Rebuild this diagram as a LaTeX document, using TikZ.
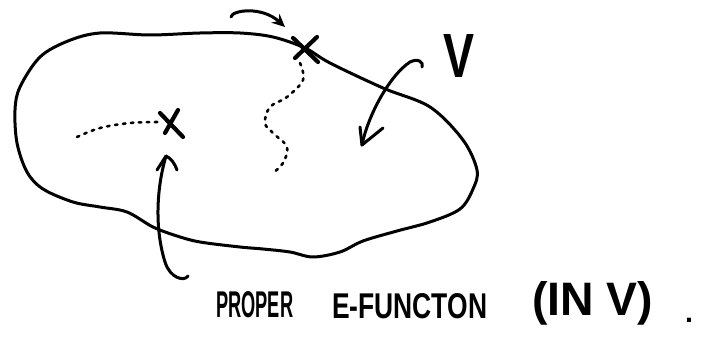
\documentclass[tikz,border=0pt]{standalone}
\usepackage{fontspec}
\setmainfont{Liberation Sans}
\usetikzlibrary{arrows.meta}
\tikzset{
  pen/.style={line width=3pt, line cap=round, line join=round, black},
  thickpen/.style={line width=4.2pt, line cap=round, black},
  trail/.style={line width=2.6pt, line cap=round, dash pattern=on 2.5pt off 5.5pt, black},
  hand/.style={inner sep=0pt, anchor=base west, font=\bfseries}
}
\begin{document}
\begin{tikzpicture}[x=1pt,y=-1pt]
\useasboundingbox (0,0) rectangle (702,339);
% the region V
\draw[pen] plot[smooth cycle, tension=0.55] coordinates {
 (100,33) (150,35) (200,33) (240,33) (273,37) (305,48) (330,63) (383,88)
 (430,107) (463,140) (477,170) (473,189) (460,209) (430,222) (397,231)
 (363,241) (340,252) (313,257) (290,252) (263,249) (240,247) (200,242)
 (177,236) (153,227) (127,212) (100,207) (73,202) (43,189) (27,172)
 (17,143) (15,110) (20,87) (40,57) (68,41)};
% marks
\coordinate (xa) at (172,123);
\coordinate (xb) at (305,48);
\draw[thickpen] (160,113) -- (183,137) (178,110) -- (165,133);
\draw[thickpen] (293,38) -- (318,62) (317,37) -- (295,58);
% dotted trails
\draw[trail] plot[smooth, tension=0.6] coordinates {(77,137) (100,128) (130,123) (160,122)};
\draw[trail] plot[smooth, tension=0.6] coordinates {(300,63) (303,80) (287,97) (270,107) (265,123) (273,133) (287,147) (283,163) (273,173)};
% curled arrow to the top mark
\draw[pen, -{Stealth[length=13pt,width=12pt]}] (231,17) .. controls (232,10) and (262,6) .. (285,27);
% arrow from V into the region
\draw[pen] (422,67) .. controls (424,62) and (418,58) .. (410,62)
  .. controls (390,75) and (368,115) .. (362,145);
\draw[pen] (360,127) -- (362,145) -- (383,128);
% arrow from the label
\draw[pen] (188,276) .. controls (184,282) and (170,278) .. (165,262)
  .. controls (155,230) and (156,190) .. (166,156);
\draw[pen] (157,170) -- (166,156) .. controls (171,158) and (175,164) .. (177,170);
% letters
\node[hand] (v) at (443,78) {\resizebox{31pt}{43pt}{V}};
\node[hand] (t1) at (216,318) {\resizebox{77pt}{26pt}{PROPER}};
\node[hand] (t2) at (332,318) {\resizebox{155pt}{25pt}{E-FUNCTON}};
\node[hand] (t3) at (532,316) {\resizebox{121pt}{34pt}{(IN V)}};
\node[hand] (t4) at (685,323) {\resizebox{8pt}{!}{.}};
\end{tikzpicture}
\end{document}
